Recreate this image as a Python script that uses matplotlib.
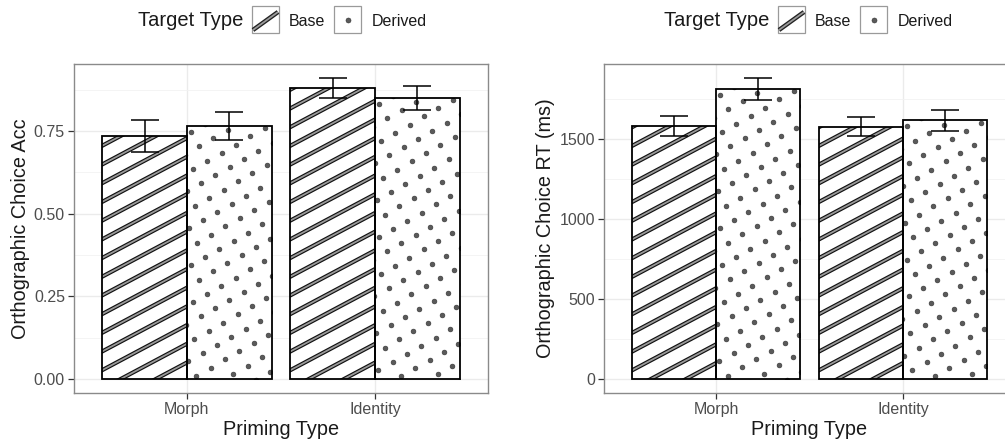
import numpy as np
import matplotlib
matplotlib.use('Agg')
from matplotlib import pyplot as plt
from matplotlib.patches import Rectangle
from matplotlib.lines import Line2D

plt.rcParams['font.family'] = ['Liberation Sans', 'DejaVu Sans']

categories = ['Morph', 'Identity']
target_types = ['Base', 'Derived']

acc_base = [0.735, 0.880]
acc_derived = [0.765, 0.850]
acc_base_err = [0.047, 0.030]
acc_derived_err = [0.042, 0.035]

rt_base = [1580, 1578]
rt_derived = [1812, 1616]
rt_base_err = [62, 62]
rt_derived_err = [68, 65]

acc_ticks = [0.00, 0.25, 0.50, 0.75]
acc_ticklabels = ['0.00', '0.25', '0.50', '0.75']
rt_ticks = [0, 500, 1000, 1500]
rt_ticklabels = ['0', '500', '1000', '1500']

W, H = 1005, 446
fig = plt.figure(figsize=(W / 100, H / 100), dpi=100)

def px(x0, y0, x1, y1):
    # pixel box (top-left origin) -> figure fraction rect
    return [x0 / W, 1 - y1 / H, (x1 - x0) / W, (y1 - y0) / H]

ax1 = fig.add_axes(px(74, 64, 488, 393))
ax2 = fig.add_axes(px(604, 64, 1015, 393))

grey_tick = '#333333'
grey_lab = '#4D4D4D'


def bar_px(ax, bar):
    return ax.transData.transform([(bar.get_x(), bar.get_y()),
                                   (bar.get_x() + bar.get_width(),
                                    bar.get_y() + bar.get_height())])


def stripes(ax, bar):
    inv = ax.transData.inverted()
    (x0, y0), (x1, y1) = bar_px(ax, bar)
    slope = np.tan(np.radians(28))
    gap = 18.7
    k0 = -int(slope * (x1 - x0 + 10) / gap) - 2
    k1 = int((y1 - y0) / gap) + 2
    for k in range(k0, k1):
        ya = y0 + k * gap + 6
        pts = inv.transform([(x0 - 5, ya), (x1 + 5, ya + slope * (x1 - x0 + 10))])
        # dark outer stroke then light centre -> double-line stripe
        for c, lw, z in (('#111111', 3.0, 2.05), ('#9a9a9a', 1.3, 2.1)):
            ln = Line2D(pts[:, 0], pts[:, 1], color=c, lw=lw, zorder=z,
                        solid_capstyle='butt')
            ax.add_line(ln)
            ln.set_clip_path(bar)


def dots(ax, bar):
    inv = ax.transData.inverted()
    (x0, y0), (x1, y1) = bar_px(ax, bar)
    u = np.array([14.35, 8.15])
    v = np.array([8.15, -14.35])
    pts = []
    for i in range(-40, 60):
        for j in range(-60, 60):
            p = np.array([x0 + 4, y1 - 6]) + i * u + j * v
            if x0 - 3 < p[0] < x1 + 3 and y0 - 3 < p[1] < y1 + 3:
                pts.append(p)
    pts = inv.transform(np.array(pts))
    sc = ax.scatter(pts[:, 0], pts[:, 1], s=12, c='#5a5a5a', edgecolors='#333333',
                    linewidths=0.4, zorder=2.1)
    sc.set_clip_path(bar)


def panel(ax, base, derived, base_err, derived_err, ylim, ticks, ticklabels, ylabel):
    x = np.arange(1, len(categories) + 1)
    ax.set_xlim(0.4, 2.6)
    ax.set_ylim(*ylim)
    w = 0.45
    bars_b = ax.bar(x - w / 2, base, width=w, facecolor='white', edgecolor='none', zorder=2)
    bars_d = ax.bar(x + w / 2, derived, width=w, facecolor='white', edgecolor='none', zorder=2)
    for b in bars_b:
        stripes(ax, b)
    for b in bars_d:
        dots(ax, b)
    ax.bar(x - w / 2, base, width=w, facecolor='none', edgecolor='black', lw=1.3, zorder=3)
    ax.bar(x + w / 2, derived, width=w, facecolor='none', edgecolor='black', lw=1.3, zorder=3)
    ax.errorbar(x - w / 2, base, yerr=base_err, fmt='none', ecolor='black', elinewidth=1.1,
                capsize=10, capthick=1.1, zorder=4)
    ax.errorbar(x + w / 2, derived, yerr=derived_err, fmt='none', ecolor='black', elinewidth=1.1,
                capsize=10, capthick=1.1, zorder=4)

    ax.set_xticks(x)
    ax.set_xticklabels(categories)
    ax.set_yticks(ticks)
    ax.set_yticklabels(ticklabels)
    minor = [(a + b) / 2 for a, b in zip(ticks[:-1], ticks[1:])]
    minor.append(ticks[-1] + (ticks[1] - ticks[0]) / 2)
    ax.set_yticks(minor, minor=True)
    ax.tick_params(axis='y', which='minor', length=0)
    ax.grid(True, which='major', color='#EBEBEB', lw=1.0, zorder=0)
    ax.grid(True, which='minor', axis='y', color='#F2F2F2', lw=0.6, zorder=0)
    ax.set_axisbelow(True)
    ax.tick_params(axis='both', which='major', length=4, width=0.9, color=grey_tick,
                   labelcolor=grey_lab, labelsize=11.5, pad=2.5)
    for s in ax.spines.values():
        s.set_color('#8a8a8a')
        s.set_linewidth(1.0)
    ax.set_xlabel('Priming Type', fontsize=14.3, color='#1a1a1a', labelpad=2)
    ax.set_ylabel(ylabel, fontsize=14.3, color='#1a1a1a', labelpad=3)


panel(ax1, acc_base, acc_derived, acc_base_err, acc_derived_err, (-0.043, 0.953),
      acc_ticks, acc_ticklabels, 'Orthographic Choice Acc')
panel(ax2, rt_base, rt_derived, rt_base_err, rt_derived_err, (-87.5, 1969),
      rt_ticks, rt_ticklabels, 'Orthographic Choice RT (ms)')


def legend(offset):
    # manual legend in figure pixels (top-left origin)
    def fx(v):
        return v / W

    def fy(v):
        return 1 - v / H

    fig.text(fx(138 + offset), fy(21), 'Target Type', fontsize=14.5, color='#1a1a1a',
             va='center', ha='left')
    bx0, bx1, by0, by1 = 252 + offset, 279 + offset, 6, 33
    fig.patches.append(Rectangle((fx(bx0), fy(by1)), fx(bx1 - bx0), (by1 - by0) / H,
                                 transform=fig.transFigure, facecolor='white',
                                 edgecolor='#9a9a9a', lw=0.9))
    for c, lw in (('#222222', 3.2), ('#9a9a9a', 1.3)):
        fig.lines.append(Line2D([fx(bx0 + 1), fx(bx1 - 1)], [fy(by1 - 3), fy(by0 + 6)],
                                transform=fig.transFigure, color=c, lw=lw,
                                solid_capstyle='butt'))
    fig.text(fx(289 + offset), fy(21), target_types[0], fontsize=11.5, color='#1a1a1a',
             va='center', ha='left')
    dx0, dx1 = 334 + offset, 361 + offset
    fig.patches.append(Rectangle((fx(dx0), fy(by1)), fx(dx1 - dx0), (by1 - by0) / H,
                                 transform=fig.transFigure, facecolor='white',
                                 edgecolor='#9a9a9a', lw=0.9))
    fig.lines.append(Line2D([fx((dx0 + dx1) / 2)], [fy(19.5)], transform=fig.transFigure,
                            marker='o', ms=3.6, mfc='#5a5a5a', mec='#333333', mew=0.4,
                            ls='none'))
    fig.text(fx(372 + offset), fy(21), target_types[1], fontsize=11.5, color='#1a1a1a',
             va='center', ha='left')


legend(0)
legend(526)

fig.savefig('out.png', dpi=100)
